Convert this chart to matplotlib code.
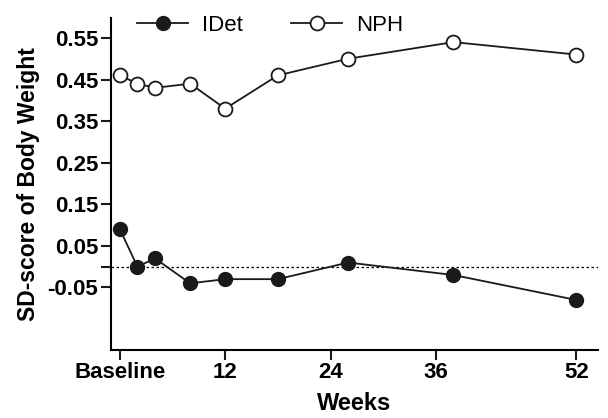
import numpy as np
import matplotlib
matplotlib.use("Agg")
import matplotlib.pyplot as plt

plt.rcParams['font.family'] = ['Liberation Sans', 'DejaVu Sans']

weeks = [0, 2, 4, 8, 12, 18, 26, 38, 52]
idet = [0.09, 0.0, 0.02, -0.04, -0.03, -0.03, 0.01, -0.02, -0.08]
nph = [0.46, 0.44, 0.43, 0.44, 0.38, 0.46, 0.50, 0.54, 0.51]

xticks = [0, 12, 24, 36, 52]
xticklabels = ['Baseline', '12', '24', '36', '52']
yticks = [-0.05, 0.0, 0.05, 0.15, 0.25, 0.35, 0.45, 0.55]
yticklabels = ['-0.05', '', '0.05', '0.15', '0.25', '0.35', '0.45', '0.55']

fig = plt.figure(figsize=(6.08, 4.18), dpi=100)
ax = fig.add_axes([0.182, 0.163, 0.802, 0.794])

ax.axhline(0, color='black', linestyle=(0, (2, 2)), linewidth=0.9, zorder=1)
ax.plot(weeks, idet, '-o', color='#1a1a1a', markerfacecolor='#1a1a1a',
        markeredgecolor='#1a1a1a', markersize=10, linewidth=1.3, label='IDet', zorder=3)
ax.plot(weeks, nph, '-o', color='#1a1a1a', markerfacecolor='white',
        markeredgecolor='#1a1a1a', markersize=10, markeredgewidth=1.3,
        linewidth=1.3, label='NPH', zorder=3)

ax.set_xlim(-1.05, 54.5)
ax.set_ylim(-0.20, 0.598)
ax.set_xticks(xticks)
ax.set_xticklabels(xticklabels, fontsize=16, fontweight='bold')
ax.set_yticks(yticks)
ax.set_yticklabels(yticklabels, fontsize=16, fontweight='bold')
ax.tick_params(axis='both', length=7, width=1.5, color='#1a1a1a', pad=2)

ax.spines['top'].set_visible(False)
ax.spines['right'].set_visible(False)
ax.spines['left'].set_linewidth(1.5)
ax.spines['bottom'].set_linewidth(1.5)

ax.set_xlabel('Weeks', fontsize=17, fontweight='bold', labelpad=6)
ax.set_ylabel('SD-score of Body Weight', fontsize=16.5, fontweight='bold', labelpad=5)

fig.legend(loc='center', bbox_to_anchor=(0.444, 0.94), ncol=2, frameon=False,
           fontsize=16, handlelength=2.3, columnspacing=2.2, handletextpad=0.6)

fig.savefig('out.png', dpi=100)
